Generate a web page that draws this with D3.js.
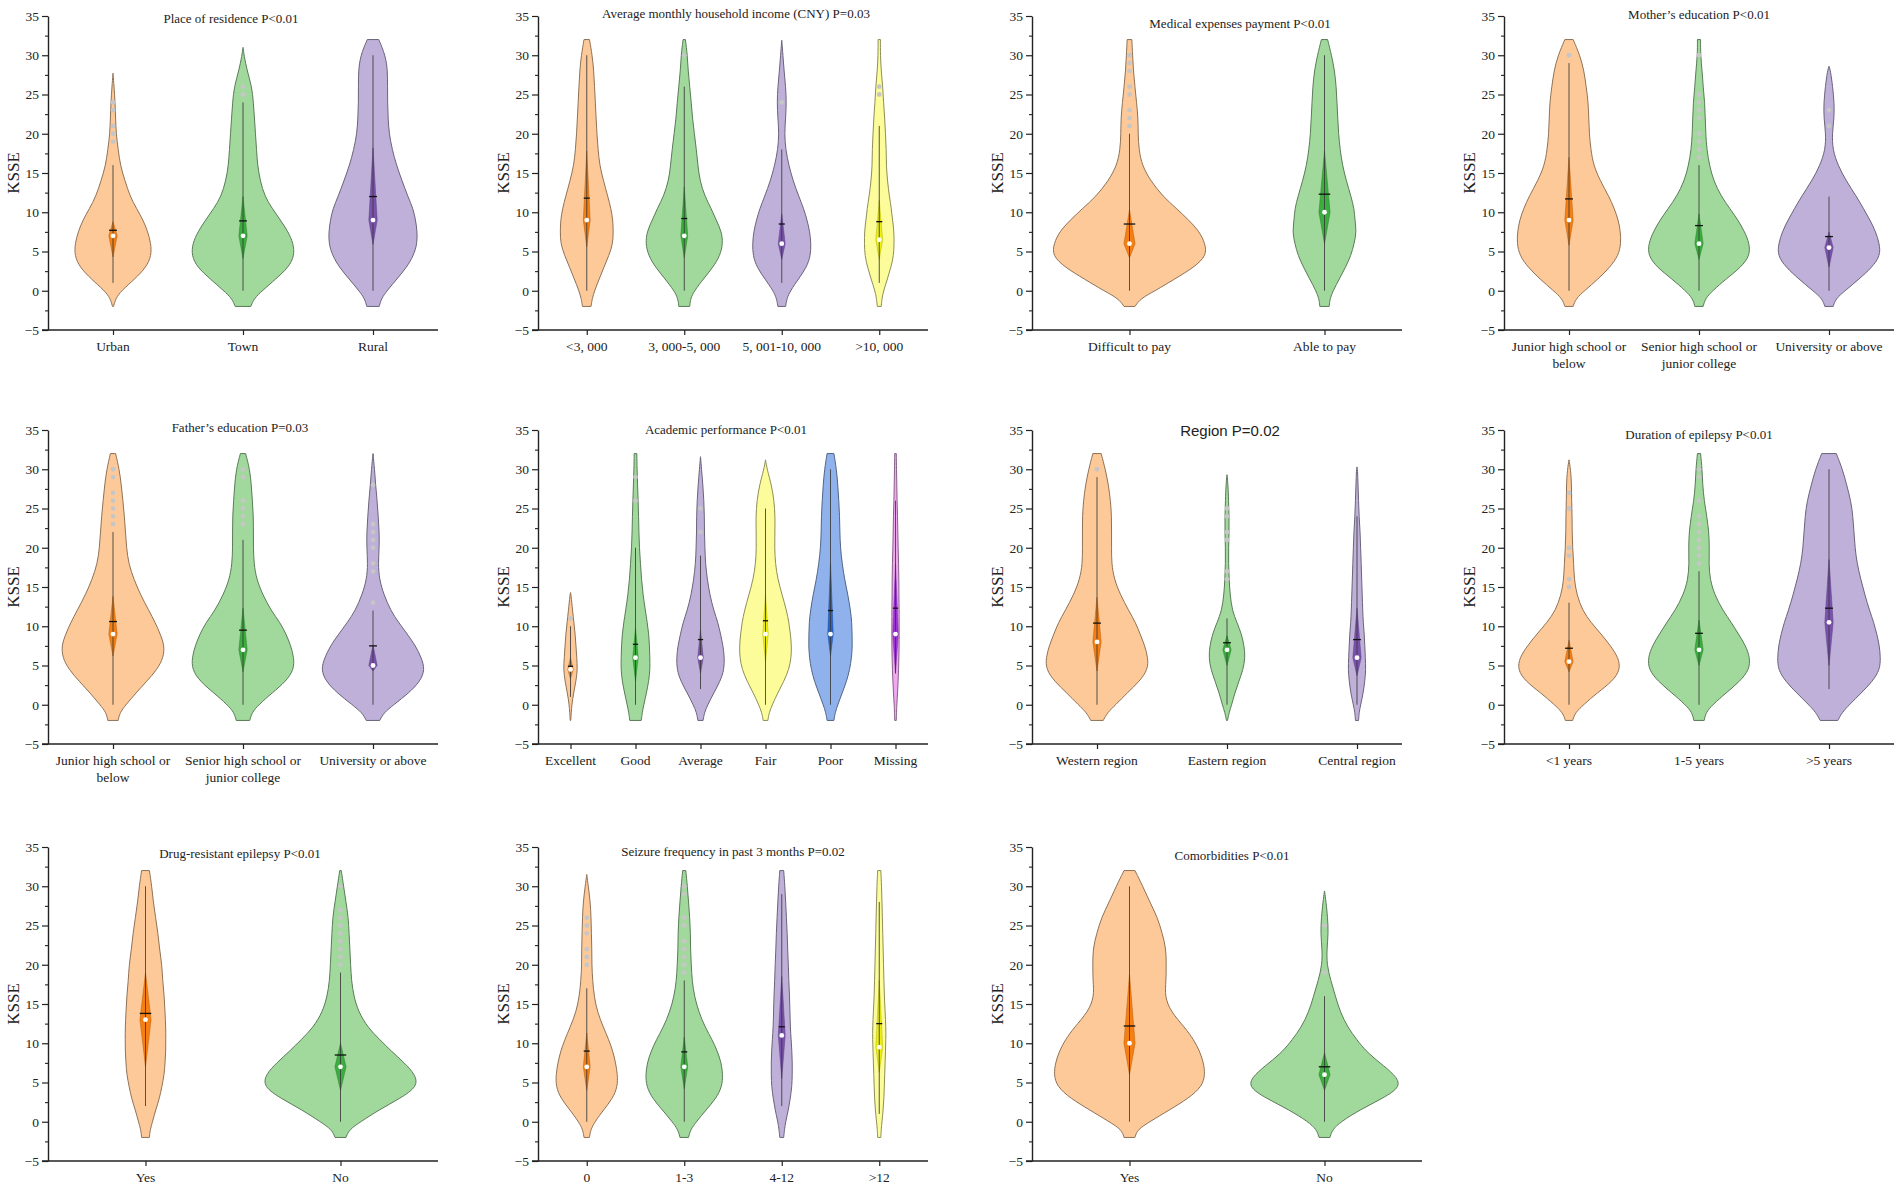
<!DOCTYPE html>
<html><head><meta charset="utf-8">
<script src="https://cdn.jsdelivr.net/npm/d3@7"></script>
<style>body{margin:0;background:#fff}svg{display:block}</style>
</head><body><svg id="c" width="1902" height="1191"></svg>
<script>
// KSSE levels at which violin densities were read (relative density, % of panel's widest violin)
const levels = [-2,-1,0,1.5,3,4.5,6,7.5,9,10.5,12,14,16,18,20,22,24,26,28,30,32];
const yTicks = [-5,0,5,10,15,20,25,30,35];
const yMinorTicks = [-2.5,2.5,7.5,12.5,17.5,22.5,27.5,32.5];
// stats rows: [whiskerLow, whiskerHigh, boxLow, boxHigh, median, mean]

// 1 Place of residence
const residenceCats = ["Urban","Town","Rural"];
const residenceDensity = [
  [1,5,16,42,64,74,73,67,58,45,33,23,14,10,6,5,4,2,null,null,null],
  [15,21,37,63,88,99,97,87,72,56,42,33,28,26,24,22,20,17,8,2,null],
  [12,16,27,46,65,78,85,85,82,77,67,56,45,37,31,29,28,28,28,24,11]];
const residenceTips = [27.7,31,null];
const residenceStats = [[1,16,4.3,8.8,7,7.7],[0,24,4.1,12,7,8.9],[0,30,5.9,18.2,9,12]];
const residenceOutliers = [[19,20,21,23,24],[25,26],[]];

// 2 Income
const incomeCats = ["<3, 000","3, 000-5, 000","5, 001-10, 000",">10, 000"];
const incomeDensity = [
  [11,14,20,32,44,57,67,68,67,62,54,43,33,29,26,24,22,20,18,14,7],
  [14,16,26,49,74,92,99,96,82,69,53,40,35,31,26,21,18,14,10,8,3],
  [10,13,22,43,64,74,75,72,65,56,44,29,18,10,7,10,12,10,6,3,null],
  [5,7,11,21,30,37,38,38,34,31,26,21,18,18,16,14,11,9,5,3,3]];
const incomeTips = [null,null,31.9,null];
const incomeStats = [[0,30,5.6,17.8,9,11.8],[0,26,4.2,13.2,7,9.2],[1,18,4,9.8,6,8.5],[1,21,4,11.5,6.5,8.8]];
const incomeOutliers = [[],[30],[24],[25,26]];

// 3 Medical expenses
const medicalCats = ["Difficult to pay","Able to pay"];
const medicalDensity = [
  [7,14,33,58,83,99,97,90,76,60,43,27,16,12,11,11,9,7,5,4,3],
  [6,7,11,19,27,34,38,41,39,38,34,28,23,20,18,17,16,15,13,9,4]];
const medicalTips = [null,null];
const medicalStats = [[0,20,4.2,10.3,6,8.5],[0,30,6,17.8,10,12.3]];
const medicalOutliers = [[21,22,23,25,26,28,29,30],[]];

// 4 Mother's education
const motherCats = ["Junior high school or\nbelow","Senior high school or\njunior college","University or above"];
const motherDensity = [
  [8,13,30,56,79,95,100,99,95,87,77,60,47,42,39,38,37,33,29,21,8],
  [8,12,26,52,81,98,97,88,75,59,43,28,20,15,13,12,11,8,6,3,3],
  [8,13,31,58,83,99,97,90,79,66,53,33,17,7,6,10,10,7,3,null,null]];
const motherTips = [null,null,28.6];
const motherStats = [[0,29,5.8,17,9,11.7],[0,16,4,9.8,6,8.3],[0,12,3,7.5,5.5,6.9]];
const motherOutliers = [[30],[17,18,19,20,22,23,24,25,30],[21,23]];

// 5 Father's education
const fatherCats = ["Junior high school or\nbelow","Senior high school or\njunior college","University or above"];
const fatherDensity = [
  [10,13,25,44,65,85,97,99,91,81,69,53,40,30,26,24,22,19,16,12,5],
  [13,17,30,56,83,98,98,92,83,71,54,38,26,21,20,20,20,18,16,13,5],
  [13,21,40,69,91,100,93,82,66,49,34,21,12,10,12,12,10,8,5,3,null]];
const fatherTips = [null,null,32];
const fatherStats = [[0,22,6.2,13.8,9,10.6],[0,21,4.2,12.3,7,9.5],[0,12,4.3,7.6,5,7.5]];
const fatherOutliers = [[23,24,25,26,27,29,30],[23,24,25,26,29,30],[13,17,18,20,21,22,23,28]];

// 6 Academic performance
const academicCats = ["Excellent","Good","Average","Fair","Poor","Missing"];
const academicDensity = [
  [1,3,5,12,21,27,24,21,18,13,8,2,null,null,null,null,null,null,null,null,null],
  [22,26,32,42,51,56,55,54,51,45,38,29,23,19,15,13,12,10,8,6,5],
  [10,15,28,51,76,91,92,87,77,67,51,36,26,19,17,15,15,13,9,4,null],
  [9,14,26,47,71,90,99,100,96,90,81,64,47,38,35,36,37,33,23,6,null],
  [13,18,28,45,62,74,81,84,83,82,77,67,54,45,38,36,35,32,28,23,13],
  [3,4,5,8,10,12,13,14,14,14,14,13,13,12,10,9,8,6,5,4,3]];
const academicTips = [14.3,null,31.6,31.2,null,null];
const academicStats = [[1,10,3.3,6,4.5,4.9],[0,20,3,9.8,6,7.7],[2,19,4,9.5,6,8.3],[0,25,5.5,14,9,10.7],[0,30,6.2,18,9,12],[4,26,4,18,9,12.3]];
const academicOutliers = [[11],[26,29],[22,25],[],[],[]];

// 7 Region
const regionCats = ["Western region","Eastern region","Central region"];
const regionDensity = [
  [12,20,36,58,82,98,98,92,83,74,61,45,33,28,28,28,28,26,22,16,8],
  [1,4,9,15,23,31,35,33,28,19,10,6,4,3,3,4,4,3,2,null,null],
  [3,4,7,12,15,17,16,15,14,12,11,10,9,8,7,6,4,3,2,1,null]];
const regionTips = [null,29.3,30.3];
const regionStats = [[0,29,4.3,13.7,8,10.4],[0,11,5,8.8,7,7.9],[0,24,3.7,12.3,6,8.3]];
const regionOutliers = [[30],[16,17,21,22,24,25],[]];

// 8 Duration of epilepsy
const durationCats = ["<1 years","1-5 years",">5 years"];
const durationDensity = [
  [7,12,28,54,84,99,95,80,62,42,26,15,10,9,7,6,6,5,5,3,null],
  [10,13,26,52,79,97,98,90,76,62,46,30,21,19,20,19,15,10,7,6,3],
  [17,25,39,62,84,98,99,97,92,86,78,69,61,54,50,48,46,42,34,26,14]];
const durationTips = [31.2,null,null];
const durationStats = [[0,13,4.2,8.2,5.5,7.2],[0,17,5,10.8,7,9.1],[2,30,5,18.5,10.5,12.3]];
const durationOutliers = [[15,16,19,20,25,27],[18,19,20,21,22,23,24,26,29,30],[]];

// 9 Drug-resistant epilepsy
const drugCats = ["Yes","No"];
const drugDensity = [
  [5,6,9,13,18,21,24,25,26,26,26,25,24,22,21,18,16,13,10,8,5],
  [7,11,26,49,77,99,96,82,65,50,35,23,17,14,13,12,11,10,7,4,1]];
const drugTips = [null,null];
const drugStats = [[2,30,7,19,13,13.8],[0,19,4,10,7,8.5]];
const drugOutliers = [[],[20,21,22,23,24,25,26,27,30]];

// 10 Seizure frequency
const seizureCats = ["0","1-3","4-12",">12"];
const seizureDensity = [
  [7,10,21,43,67,79,79,74,67,56,43,27,19,15,13,13,12,11,9,4,null],
  [11,16,31,56,82,97,99,95,85,71,54,37,26,20,18,16,16,14,11,8,4],
  [5,7,10,17,22,26,27,27,26,24,22,21,20,18,17,15,14,12,10,8,5],
  [4,5,7,10,12,13,14,15,16,17,17,15,13,12,11,10,9,8,7,6,4]];
const seizureTips = [31.5,null,null,null];
const seizureStats = [[0,17,4,11.3,7,9],[0,18,4.2,10.8,7,8.9],[2,29,5.5,18.5,11,12.1],[1,28,6.3,18,9.5,12.5]];
const seizureOutliers = [[20,21,22,24,25,26],[19,20,21,22,23,25,26,29,30],[],[]];

// 11 Comorbidities
const comorbCats = ["Yes","No"];
const comorbDensity = [
  [7,10,26,51,76,93,97,95,90,82,71,53,45,47,47,47,42,36,26,17,7],
  [7,10,21,45,75,99,90,71,53,41,30,20,14,8,3,3,5,4,2,null,null]];
const comorbTips = [null,29.4];
const comorbStats = [[0,30,6,18.8,10,12.2],[0,16,4,8.8,6,7]];
const comorbOutliers = [[],[19,25]];

// styles
const fills = ["#FDC998","#A0D99B","#BEB0D8","#FCFC9A","#8FB2EC","#F0A8F0"];
const inners = ["#F57F12","#3AAE3E","#7A52AE","#EEEE10","#2466D4","#9A34D6"];

const panels = [
 {title:"Place of residence P<0.01", cats:residenceCats, dens:residenceDensity, tips:residenceTips, stats:residenceStats, out:residenceOutliers, row:0,col:0,tdx:-12,tdy:6.7},
 {title:"Average monthly household income (CNY) P=0.03", cats:incomeCats, dens:incomeDensity, tips:incomeTips, stats:incomeStats, out:incomeOutliers, row:0,col:1,tdx:3,tdy:2.3},
 {title:"Medical expenses payment P<0.01", cats:medicalCats, dens:medicalDensity, tips:medicalTips, stats:medicalStats, out:medicalOutliers, row:0,col:2,tdx:13,tdy:11.7,short:true},
 {title:"Mother\u2019s education P<0.01", cats:motherCats, dens:motherDensity, tips:motherTips, stats:motherStats, out:motherOutliers, row:0,col:3,tdx:0,tdy:3},
 {title:"Father\u2019s education P=0.03", cats:fatherCats, dens:fatherDensity, tips:fatherTips, stats:fatherStats, out:fatherOutliers, row:1,col:0,tdx:-3,tdy:2.3},
 {title:"Academic performance P<0.01", cats:academicCats, dens:academicDensity, tips:academicTips, stats:academicStats, out:academicOutliers, row:1,col:1,tdx:-7,tdy:4},
 {title:"Region P=0.02", cats:regionCats, dens:regionDensity, tips:regionTips, stats:regionStats, out:regionOutliers, row:1,col:2,tdx:3,tdy:6,sans:true,short:true},
 {title:"Duration of epilepsy P<0.01", cats:durationCats, dens:durationDensity, tips:durationTips, stats:durationStats, out:durationOutliers, row:1,col:3,tdx:0,tdy:9},
 {title:"Drug-resistant epilepsy P<0.01", cats:drugCats, dens:drugDensity, tips:drugTips, stats:drugStats, out:drugOutliers, row:2,col:0,tdx:-3,tdy:10.7},
 {title:"Seizure frequency in past 3 months P=0.02", cats:seizureCats, dens:seizureDensity, tips:seizureTips, stats:seizureStats, out:seizureOutliers, row:2,col:1,tdx:0,tdy:9},
 {title:"Comorbidities P<0.01", cats:comorbCats, dens:comorbDensity, tips:comorbTips, stats:comorbStats, out:comorbOutliers, row:2,col:2,tdx:5,tdy:13}
];

const colX = [48, 538, 1032, 1504];
const rowY = [16, 430, 847];
const plotW = 390, plotH = 314;
const serif = "'Liberation Serif','Times New Roman',serif";
const sans = "'Liberation Sans',Arial,sans-serif";

const svg = d3.select("#c");

panels.forEach(p => {
  const g = svg.append("g");
  const x0 = colX[p.col], yTop = rowY[p.row];
  const y = d3.scaleLinear().domain([-5,35]).range([yTop+plotH, yTop]);
  const x = d3.scalePoint().domain(p.cats).range([x0, x0+plotW]).padding(0.5);
  const step = x.step();
  const w = d3.scaleLinear().domain([0,100]).range([0, 0.4*step]);
  const dh = step*0.022 + 1.3;
  const mh = Math.max(2.6, step*0.028 + 0.3);

  p.cats.forEach((c,i) => {
    const cx = x(c);
    const pts = levels.map((lv,j)=>({v:lv, d:p.dens[i][j]})).filter(d=>d.d!=null);
    if (p.tips[i]!=null) pts.push({v:p.tips[i], d:0});
    const area = d3.area().curve(d3.curveBasis)
      .y(d=>y(d.v)).x0(d=>cx-w(d.d)).x1(d=>cx+w(d.d));
    g.append("path").attr("d", area(pts))
      .attr("fill", fills[i]).attr("stroke", d3.color(fills[i]).darker(1.6))
      .attr("stroke-width", 1);
    const [wl, wh, bl, bh, med, mean] = p.stats[i];
    // outliers
    g.selectAll(null).data(p.out[i]).enter().append("circle")
      .attr("cx", cx).attr("cy", d=>y(d)).attr("r", 2.4).attr("fill", "#c6c6c6");
    // diamond box
    const dpath = d3.line()([[cx, y(bh)],[cx+dh, y(med)],[cx, y(bl)],[cx-dh, y(med)]]) + "Z";
    g.append("path").attr("d", dpath).attr("fill", inners[i])
      .attr("stroke", d3.color(inners[i]).darker(0.8)).attr("stroke-width", 0.5);
    // whisker
    g.append("line").attr("x1", cx).attr("x2", cx).attr("y1", y(wl)).attr("y2", y(wh))
      .attr("stroke", "#3a3a3a").attr("stroke-width", 1).attr("stroke-opacity", 0.85);
    // mean
    g.append("line").attr("x1", cx-mh).attr("x2", cx+mh).attr("y1", y(mean)).attr("y2", y(mean))
      .attr("stroke", "#111").attr("stroke-width", 1.3);
    // median
    g.append("circle").attr("cx", cx).attr("cy", y(med)).attr("r", 2.4).attr("fill", "#fff");
  });

  // y axis
  const ya = g.append("g").attr("transform", `translate(${x0},0)`)
    .call(d3.axisLeft(y).tickValues(yTicks).tickSize(6).tickSizeOuter(0).tickPadding(3));
  ya.select(".domain").attr("stroke", "#222").attr("stroke-width", 1.4);
  ya.selectAll(".tick line").attr("stroke", "#222").attr("stroke-width", 1.2);
  ya.selectAll(".tick text").attr("font-family", serif).attr("font-size", 13.5).attr("fill", "#222");
  const ym = g.append("g").attr("transform", `translate(${x0},0)`)
    .call(d3.axisLeft(y).tickValues(yMinorTicks).tickSize(3).tickFormat(() => ""));
  ym.select(".domain").remove();
  ym.selectAll(".tick line").attr("stroke", "#222").attr("stroke-width", 1.1);

  // x axis
  const axisEnd = p.short ? x0 + 370 : x0 + plotW;
  g.append("line").attr("x1", x0-6).attr("x2", axisEnd).attr("y1", y(-5)).attr("y2", y(-5))
    .attr("stroke", "#222").attr("stroke-width", 1.4);
  const xa = g.append("g").attr("transform", `translate(0,${y(-5)})`)
    .call(d3.axisBottom(x).tickSize(5).tickSizeOuter(0).tickFormat(() => ""));
  xa.select(".domain").remove();
  xa.selectAll(".tick line").attr("stroke", "#222").attr("stroke-width", 1.2);
  p.cats.forEach(c => {
    const t = g.append("text").attr("x", x(c)).attr("y", y(-5) + 21)
      .attr("text-anchor", "middle").attr("font-family", serif).attr("font-size", 13.5).attr("fill", "#222");
    c.split("\n").forEach((line, k) => {
      t.append("tspan").attr("x", x(c)).attr("dy", k === 0 ? 0 : 16.7).text(line);
    });
  });

  // y label
  const cy = (y(-5) + y(35)) / 2;
  g.append("text").attr("transform", `translate(${x0-29},${cy}) rotate(-90)`)
    .attr("text-anchor", "middle").attr("font-family", serif).attr("font-size", 17)
    .attr("fill", "#222").text("KSSE");

  // title
  g.append("text").attr("x", x0 + plotW/2 + p.tdx).attr("y", yTop + p.tdy)
    .attr("text-anchor", "middle")
    .attr("font-family", p.sans ? sans : serif).attr("font-size", p.sans ? 15 : 13)
    .attr("fill", "#222").text(p.title);
});
</script>
</body></html>
